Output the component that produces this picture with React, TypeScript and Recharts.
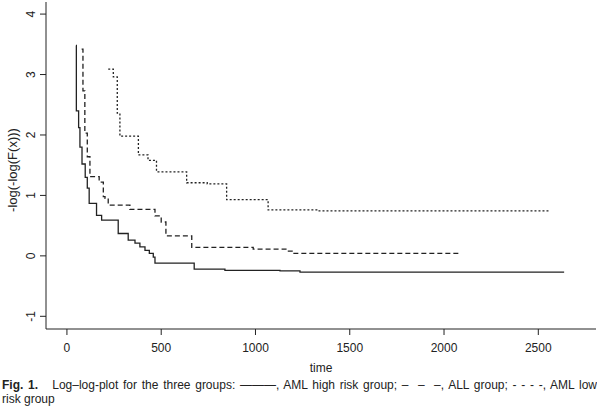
import { LineChart, Line, XAxis, YAxis } from "recharts";

// AML high risk group (solid)
const amlHighTime = [48, 50, 62, 69, 80, 97, 108, 118, 157, 184, 272, 325, 361, 387, 414, 437, 458, 467, 675, 838, 1130, 1236, 2637];
const amlHighValue = [3.48, 2.4, 2.12, 1.8, 1.52, 1.3, 1.12, 0.87, 0.67, 0.59, 0.37, 0.26, 0.21, 0.15, 0.09, 0.04, -0.02, -0.12, -0.22, -0.24, -0.25, -0.27, -0.27];

// ALL group (dashed)
const allTime = [78, 85, 95, 108, 122, 171, 193, 202, 219, 334, 467, 500, 525, 662, 988, 1166, 1200, 2080];
const allValue = [3.42, 2.73, 2.03, 1.64, 1.31, 1.22, 0.98, 0.95, 0.84, 0.77, 0.66, 0.56, 0.33, 0.14, 0.11, 0.08, 0.04, 0.04];

// AML low risk group (dotted)
const amlLowTime = [219, 246, 267, 281, 379, 430, 475, 635, 744, 847, 1067, 1325, 2562];
const amlLowValue = [3.09, 2.96, 2.36, 1.98, 1.67, 1.58, 1.39, 1.21, 1.19, 0.93, 0.76, 0.745, 0.745];

const xTicks = [0, 500, 1000, 1500, 2000, 2500];
const yTicks = [-1, 0, 1, 2, 3, 4];

const xDomain = [-111, 2806];
const yDomain = [-1.21, 4.2];

const toRows = (ts: number[], vs: number[]) => ts.map((t, i) => ({ t, v: vs[i] }));

const ink = "#222";
const font = "Arial, 'Liberation Sans', Helvetica, sans-serif";

function XTick({ x, y, payload }: any) {
  return (
    <text x={x} y={y + 15} textAnchor="middle" fontSize={12} fill={ink} fontFamily={font}>
      {payload.value}
    </text>
  );
}

function YTick({ x, y, payload }: any) {
  const bx = x - 3;
  return (
    <text x={bx} y={y} textAnchor="middle" fontSize={12} fill={ink} fontFamily={font}
      transform={`rotate(-90, ${bx}, ${y})`}>
      {payload.value}
    </text>
  );
}

export default function App() {
  return (
    <div style={{ position: "absolute", left: 0, top: 0, width: 597, height: 408, background: "white", fontFamily: font, color: ink }}>
      <LineChart width={597} height={408} margin={{ top: 2, right: 1, left: 0, bottom: 0 }}>
        <XAxis dataKey="t" type="number" domain={xDomain} ticks={xTicks} allowDataOverflow
          height={79} tickSize={6} stroke={ink} tick={<XTick />} />
        <YAxis type="number" domain={yDomain} ticks={yTicks} allowDataOverflow
          width={46} tickSize={6} stroke={ink} tick={<YTick />} />
        <XAxis xAxisId="top" orientation="top" type="number" domain={xDomain} height={0}
          tick={false} tickLine={false} stroke={ink} />
        <YAxis yAxisId="right" orientation="right" type="number" domain={yDomain} width={0}
          tick={false} tickLine={false} stroke={ink} />
        <Line data={toRows(amlHighTime, amlHighValue)} dataKey="v" type="stepAfter" stroke={ink}
          strokeWidth={1.3} dot={false} isAnimationActive={false} />
        <Line data={toRows(allTime, allValue)} dataKey="v" type="stepAfter" stroke={ink}
          strokeWidth={1.3} strokeDasharray="5 3" dot={false} isAnimationActive={false} />
        <Line data={toRows(amlLowTime, amlLowValue)} dataKey="v" type="stepAfter" stroke={ink}
          strokeWidth={1.3} strokeDasharray="2 2" dot={false} isAnimationActive={false} />
      </LineChart>

      <div style={{ position: "absolute", left: 12, top: 170, fontSize: 13, whiteSpace: "nowrap", transform: "translate(-50%, -50%) rotate(-90deg)" }}>
        -log(-log(F(x)))
      </div>
      <div style={{ position: "absolute", left: 321, top: 362, fontSize: 12, lineHeight: "12px", transform: "translateX(-50%)" }}>
        time
      </div>
      <div style={{ position: "absolute", left: 2, top: 379, width: 595, fontSize: 12, lineHeight: "13px", textAlign: "justify", textAlignLast: "justify", whiteSpace: "nowrap" }}>
        <b>Fig. 1.</b>{"\u00a0\u00a0 "}Log–log-plot for the three groups: ———, AML high risk group; –{"\u00a0 "}–{"\u00a0 "}–, ALL group; - - - -, AML low
      </div>
      <div style={{ position: "absolute", left: 2, top: 393, fontSize: 12, lineHeight: "13px" }}>
        risk group
      </div>
    </div>
  );
}
